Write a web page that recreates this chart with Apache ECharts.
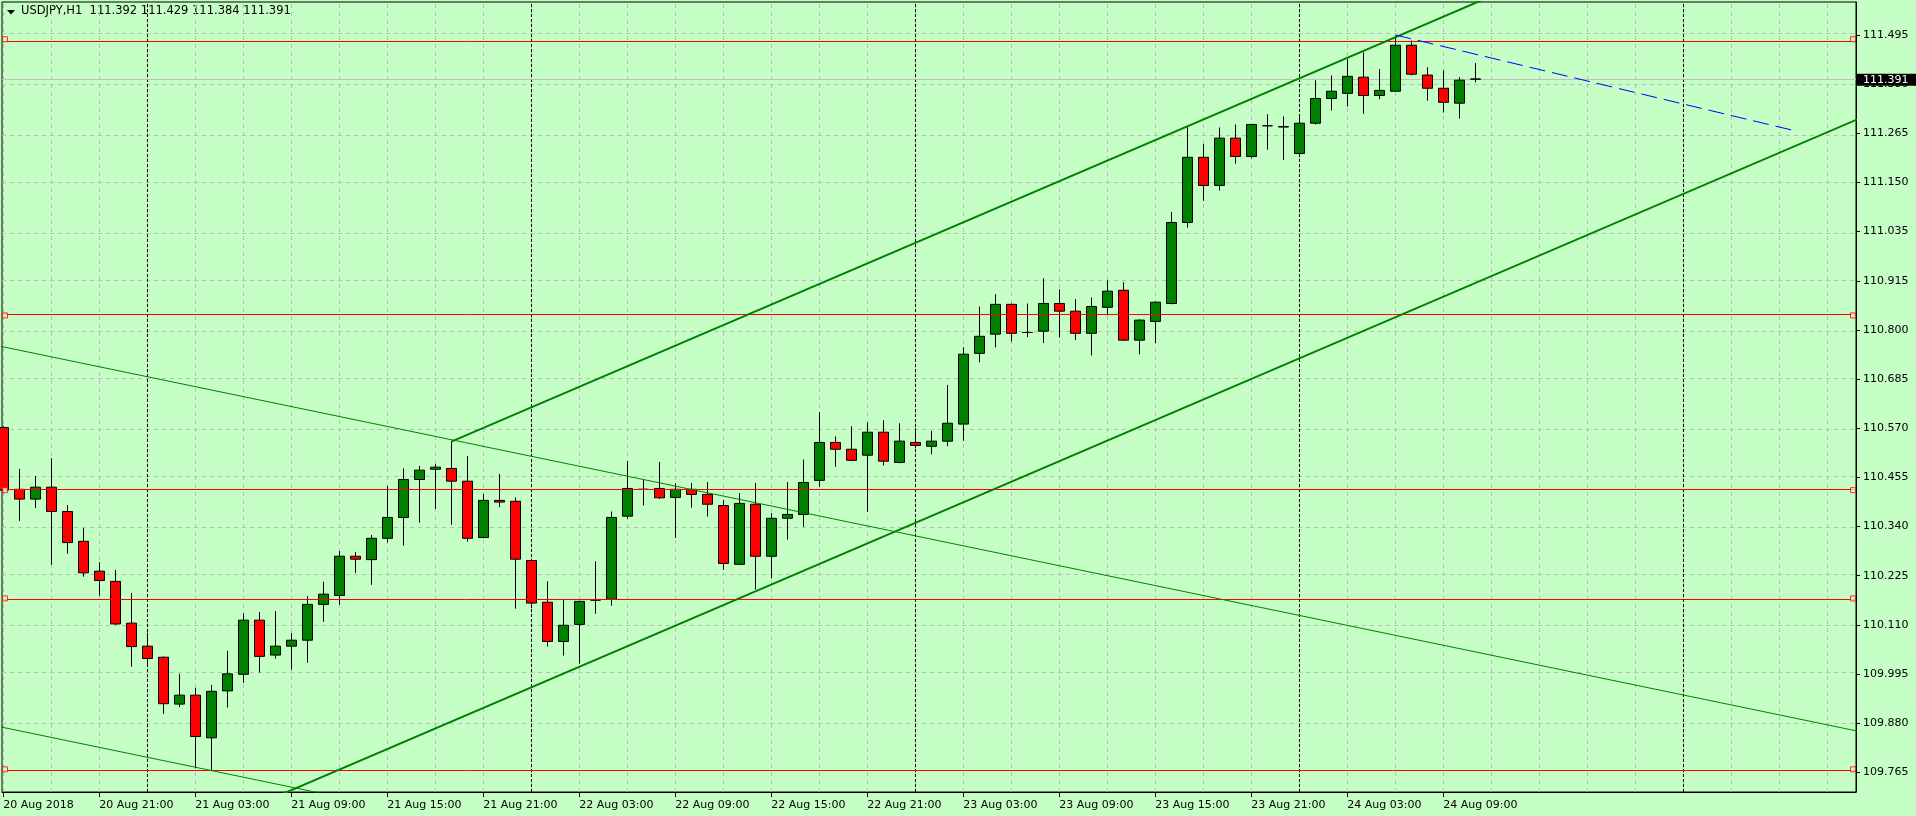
<!DOCTYPE html>
<html><head><meta charset="utf-8">
<script src="https://cdn.jsdelivr.net/npm/echarts@6/dist/echarts.min.js"></script>
<style>html,body{margin:0;padding:0;background:#C5FFC5;overflow:hidden;} #c{width:1916px;height:816px;}</style>
</head><body><div id="c"></div>
<script>
// ---------------- data ----------------
const symbolTitle = 'USDJPY,H1';
const lastOHLC = ['111.392', '111.429', '111.384', '111.391'];
// hourly bars, bar 0 = 20 Aug 2018 15:00
const open  = [110.574,110.429,110.406,110.434,110.377,110.307,110.237,110.213,110.115,110.061,
               110.035,109.925,109.946,109.846,109.956,109.995,110.122,110.040,110.061,110.075,
               110.159,110.180,110.272,110.264,110.314,110.363,110.452,110.476,110.478,110.448,
               110.316,110.403,110.401,110.262,110.164,110.072,110.112,110.169,110.171,110.366,
               110.429,110.431,110.410,110.429,110.417,110.391,110.253,110.394,110.272,110.361,
               110.370,110.450,110.539,110.523,110.509,110.563,110.492,110.539,110.530,110.542,
               110.582,110.748,110.793,110.863,110.797,110.800,110.865,110.847,110.795,110.856,
               110.896,110.779,110.823,110.865,111.055,111.208,111.142,111.253,111.210,111.282,
               111.280,111.217,111.288,111.346,111.358,111.396,111.353,111.363,111.471,111.401,
               111.370,111.335,111.392];
const high  = [110.578,110.477,110.460,110.502,110.392,110.338,110.258,110.240,110.186,110.093,
               110.037,109.996,109.963,109.970,110.050,110.138,110.141,110.143,110.092,110.178,
               110.212,110.284,110.282,110.322,110.437,110.478,110.484,110.488,110.541,110.507,
               110.418,110.465,110.410,110.263,110.213,110.169,110.168,110.260,110.377,110.495,
               110.452,110.493,110.443,110.444,110.446,110.404,110.420,110.444,110.373,110.446,
               110.499,110.610,110.553,110.577,110.586,110.591,110.584,110.572,110.566,110.674,
               110.762,110.858,110.887,110.865,110.865,110.924,110.898,110.875,110.879,110.919,
               110.915,110.828,110.870,111.080,111.280,111.239,111.278,111.285,111.287,111.309,
               111.304,111.306,111.389,111.400,111.438,111.454,111.415,111.494,111.482,111.419,
               111.412,111.396,111.429];
const low   = [110.420,110.355,110.385,110.252,110.278,110.224,110.179,110.111,110.013,110.017,
               109.902,109.918,109.774,109.769,109.917,109.975,109.999,110.032,110.006,110.022,
               110.118,110.158,110.233,110.205,110.304,110.297,110.351,110.383,110.346,110.306,
               110.314,110.387,110.149,110.150,110.060,110.039,110.020,110.137,110.156,110.360,
               110.391,110.406,110.315,110.386,110.365,110.240,110.251,110.194,110.220,110.311,
               110.341,110.435,110.482,110.495,110.376,110.485,110.490,110.525,110.511,110.530,
               110.543,110.727,110.762,110.776,110.786,110.772,110.785,110.779,110.743,110.837,
               110.777,110.746,110.772,110.863,111.043,111.106,111.130,111.193,111.206,111.226,
               111.202,111.215,111.285,111.318,111.327,111.310,111.344,111.363,111.400,111.341,
               111.313,111.299,111.384];
const close = [110.427,110.406,110.434,110.377,110.304,110.233,110.215,110.113,110.060,110.032,
               109.926,109.946,109.849,109.955,109.996,110.122,110.037,110.061,110.075,110.159,
               110.183,110.272,110.265,110.314,110.363,110.452,110.474,110.481,110.448,110.314,
               110.403,110.399,110.265,110.162,110.072,110.110,110.166,110.169,110.363,110.431,
               110.429,110.409,110.429,110.417,110.394,110.255,110.396,110.272,110.361,110.370,
               110.445,110.539,110.523,110.497,110.563,110.495,110.542,110.532,110.542,110.584,
               110.746,110.788,110.863,110.795,110.797,110.865,110.847,110.795,110.858,110.894,
               110.779,110.826,110.868,111.055,111.208,111.142,111.253,111.210,111.285,111.282,
               111.279,111.288,111.346,111.363,111.398,111.353,111.365,111.471,111.403,111.370,
               111.337,111.389,111.391];
// time-axis labels, one every 6 bars
const xTickLabels = ['20 Aug 2018','20 Aug 21:00','21 Aug 03:00','21 Aug 09:00','21 Aug 15:00',
                     '21 Aug 21:00','22 Aug 03:00','22 Aug 09:00','22 Aug 15:00','22 Aug 21:00',
                     '23 Aug 03:00','23 Aug 09:00','23 Aug 15:00','23 Aug 21:00','24 Aug 03:00','24 Aug 09:00'];
const yTickLabels = ['109.765','109.880','109.995','110.110','110.225','110.340','110.455','110.570',
                     '110.685','110.800','110.915','111.035','111.150','111.265','111.380','111.495'];
const daySeparators = [9, 33, 57, 81, 105];           // bar index of midnight
const horizontalLevels = [111.485, 110.837, 110.427, 110.173, 109.772];
const upperChannel = [[28, 110.541], [116, 111.956]];
const lowerChannel = [[17, 109.707], [116, 111.299]];
const upperFalling = [[-1, 110.771], [117, 109.853]];
const lowerFalling = [[-1, 109.878], [30, 109.637]];
const blueDashed   = [[87, 111.495], [112, 111.270]];
const currentPrice = 111.391;

// ---------------- view ----------------
const X_MIN = -0.08, X_MAX = 115.79;
const Y_MIN = 109.7188, Y_MAX = 111.5724;
const BARS_PER_LABEL = 6, BARS_PER_GRID = 3;
const FONT = 'DejaVu Sans';
const BG = '#C5FFC5';

const yStep = (parseFloat(yTickLabels[yTickLabels.length-1]) - parseFloat(yTickLabels[0])) / (yTickLabels.length - 1);
const yTickValues = yTickLabels.map((s, k) => parseFloat(yTickLabels[0]) + k * yStep);
const xTickValues = xTickLabels.map((s, k) => k * BARS_PER_LABEL);
const xGridValues = [];
for (let v = 0; v <= X_MAX; v += BARS_PER_GRID) xGridValues.push(v);

const candleData = open.map((o, i) => [i, o, close[i], low[i], high[i]]);

function dummy(extra) {
  return Object.assign({
    type: 'line', data: [[X_MIN, Y_MIN]], symbol: 'none', silent: true,
    lineStyle: { opacity: 0 }, animation: false
  }, extra);
}

const chart = echarts.init(document.getElementById('c'), null, { renderer: 'canvas' });
chart.setOption({
  animation: false,
  backgroundColor: BG,
  grid: { left: 2, right: 60, top: 2, bottom: 24, show: true, borderColor: '#000', borderWidth: 1, backgroundColor: 'transparent' },
  xAxis: {
    type: 'value', min: X_MIN, max: X_MAX,
    axisLine: { show: true, onZero: false, lineStyle: { color: '#000' } },
    axisTick: { show: true, customValues: xTickValues, length: 5, lineStyle: { color: '#000' } },
    axisLabel: {
      customValues: xTickValues, align: 'left', margin: 8, color: '#000',
      fontFamily: FONT, fontSize: 11,
      formatter: v => xTickLabels[Math.round(v / BARS_PER_LABEL)] || ''
    },
    splitLine: { show: false }
  },
  yAxis: {
    type: 'value', position: 'right', min: Y_MIN, max: Y_MAX,
    axisLine: { show: true, onZero: false, lineStyle: { color: '#000' } },
    axisTick: { show: true, customValues: yTickValues, length: 4, lineStyle: { color: '#000' } },
    axisLabel: {
      customValues: yTickValues, margin: 7, color: '#000', fontFamily: FONT, fontSize: 11,
      formatter: v => yTickLabels[Math.round((v - yTickValues[0]) / yStep)] || ''
    },
    splitLine: { show: false }
  },
  graphic: [
    { type: 'polygon', shape: { points: [[7, 10], [15, 10], [11, 14.5]] }, style: { fill: '#000' } },
    { type: 'text', left: 21, top: 5, style: { text: symbolTitle + '  ' + lastOHLC.join(' '), fill: '#000', font: '11.5px "DejaVu Sans"' } }
  ],
  series: [
    dummy({ z: 1, markLine: {
      z: 1, silent: true, symbol: ['none', 'none'], label: { show: false }, animation: false,
      lineStyle: { color: '#BBBBBB', type: [4, 4], width: 1 },
      data: yTickValues.map(v => ({ yAxis: v })).concat(xGridValues.map(v => ({ xAxis: v })))
    }}),
    dummy({ z: 1, markLine: {
      z: 1, silent: true, symbol: ['none', 'none'], label: { show: false }, animation: false,
      lineStyle: { color: '#000', type: [3, 2], width: 1 },
      data: daySeparators.map(v => ({ xAxis: v }))
    }}),
    dummy({ z: 2, markLine: {
      z: 2, silent: true, symbol: ['none', 'none'], animation: false,
      lineStyle: { color: '#C0C0C0', type: 'solid', width: 1 },
      label: { show: true, position: 'end', distance: 1, formatter: lastOHLC[3],
               backgroundColor: '#000', color: '#fff', fontFamily: FONT, fontSize: 11, lineHeight: 12, padding: [0, 8, 0, 6] },
      data: [{ yAxis: currentPrice }]
    }}),
    {
      type: 'candlestick', z: 3, data: candleData, encode: { x: 0, y: [1, 2, 3, 4] },
      barWidth: 10, animation: false, silent: true,
      itemStyle: { color: '#008000', color0: '#FF0000', borderColor: '#000', borderColor0: '#000', borderColorDoji: '#000', borderWidth: 1 }
    },
    dummy({ z: 4, markLine: {
      z: 4, silent: true, symbol: ['none', 'none'], label: { show: false }, animation: false,
      lineStyle: { color: '#FF0000', type: 'solid', width: 1 },
      data: horizontalLevels.map(v => ({ yAxis: v }))
    }}),
    {
      type: 'scatter', z: 5, symbol: 'rect', symbolSize: 5, silent: true, animation: false,
      itemStyle: { color: BG, borderColor: '#FF0000', borderWidth: 1 },
      data: horizontalLevels.flatMap(v => [
        { value: [X_MIN, v], symbolOffset: [3, 0] },
        { value: [X_MAX, v], symbolOffset: [-3, 0] }
      ])
    },
    { type: 'line', z: 4, data: upperChannel, symbol: 'none', silent: true, animation: false, lineStyle: { color: '#008000', width: 2 } },
    { type: 'line', z: 4, data: lowerChannel, symbol: 'none', silent: true, animation: false, lineStyle: { color: '#008000', width: 2 } },
    { type: 'line', z: 4, data: upperFalling, symbol: 'none', silent: true, animation: false, lineStyle: { color: '#008000', width: 1 } },
    { type: 'line', z: 4, data: lowerFalling, symbol: 'none', silent: true, animation: false, lineStyle: { color: '#008000', width: 1 } },
    { type: 'line', z: 4, data: blueDashed, symbol: 'none', silent: true, animation: false, lineStyle: { color: '#0000FF', width: 1, type: [16, 7] } }
  ]
});
</script>
</body></html>
